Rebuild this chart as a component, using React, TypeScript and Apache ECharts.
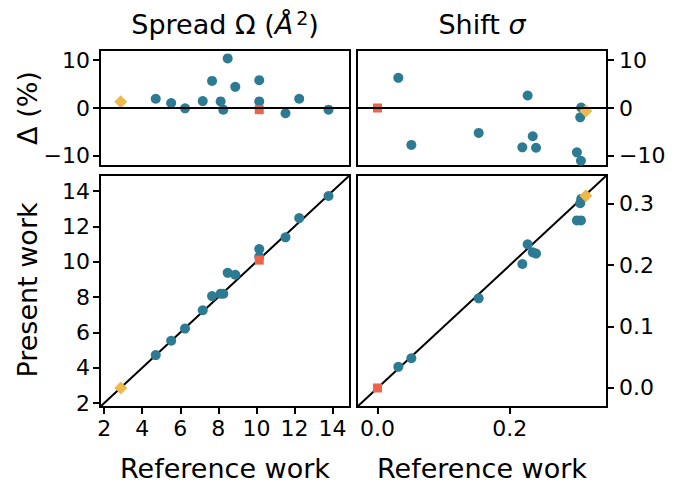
import React, { useEffect, useRef } from 'react';
import * as echarts from 'echarts';

// ---- Spread Ω (Å²) ----
const spreadRef = [4.71, 5.52, 6.25, 7.18, 7.67, 8.12, 8.26, 8.49, 8.89, 10.15, 10.15, 11.53, 12.25, 13.79];
const spreadPresent = [4.72, 5.53, 6.22, 7.26, 8.06, 8.2, 8.2, 9.38, 9.27, 10.73, 10.29, 11.39, 12.48, 13.73];
const spreadDelta = [1.93, 1.03, -0.07, 1.45, 5.65, 1.38, -0.35, 10.35, 4.41, 5.8, 1.38, -1.1, 1.93, -0.35];
const spreadDiamond = { ref: 2.87, present: 2.86, delta: 1.3 };
const spreadSquare = { ref: 10.15, present: 10.1, delta: -0.35 };

// ---- Shift σ ----
const shiftRef = [0.0315, 0.0512, 0.153, 0.219, 0.227, 0.2347, 0.2397, 0.3015, 0.3076, 0.3065, 0.308];
const shiftPresent = [0.0345, 0.0485, 0.146, 0.202, 0.234, 0.221, 0.219, 0.273, 0.273, 0.301, 0.308];
const shiftDelta = [6.3, -7.7, -5.2, -8.2, 2.6, -5.9, -8.3, -9.25, -11.0, -1.95, 0.1];
const shiftDiamond = { ref: 0.315, present: 0.313, delta: -0.6 };
const shiftSquare = { ref: 0.0, present: 0.0, delta: 0.0 };

// ---- Ticks ----
const deltaTicks = [-10, 0, 10];
const spreadTicks = [2, 4, 6, 8, 10, 12, 14];
const shiftXTicks = [0.0, 0.2];
const shiftYTicks = [0.0, 0.1, 0.2, 0.3];

const SPREAD_RANGE = [1.78, 14.92];
const SHIFT_RANGE = [-0.031, 0.347];
const DELTA_RANGE = [-12.1, 12.1];

const BLUE = '#2D7B93';
const RED = '#EE6349';
const YELLOW = '#EDB94A';
const FONT = 'DejaVu Sans';

const minus = (s: string) => s.replace('-', '\u2212');

export default function App() {
  const ref = useRef<HTMLDivElement>(null);
  useEffect(() => {
    const chart = echarts.init(ref.current!, null, { renderer: 'svg' });
    const tickStyle = { show: true, inside: false, length: 7, lineStyle: { color: '#000', width: 2 } };
    const gridBase = { show: true, borderColor: '#000', borderWidth: 2, backgroundColor: 'transparent' };

    const mkAxis = (gridIndex: number, range: number[], ticks: number[] | null, fmt: (v: number) => string, position?: string, margin = 10) => ({
      type: 'value',
      gridIndex,
      min: range[0],
      max: range[1],
      position,
      show: ticks !== null,
      splitLine: { show: false },
      axisLine: { show: false, onZero: false },
      axisTick: ticks ? { ...tickStyle, customValues: ticks } : { show: false },
      axisLabel: ticks
        ? { color: '#000', fontSize: 22, fontFamily: FONT, margin, customValues: ticks, formatter: (v: number) => fmt(v) }
        : { show: false },
    });

    const intFmt = (v: number) => minus(String(Math.round(v)));
    const oneFmt = (v: number) => minus(v.toFixed(1));

    const zeroLine = {
      silent: true,
      symbol: 'none',
      label: { show: false },
      lineStyle: { color: '#000', width: 2, type: 'solid' },
      data: [{ yAxis: 0 }],
    };

    const blue = (xi: number, data: number[][], withZero = false) => ({
      type: 'scatter',
      xAxisIndex: xi,
      yAxisIndex: xi,
      symbol: 'circle',
      symbolSize: 10,
      itemStyle: { color: BLUE, opacity: 1 },
      data,
      z: 3,
      ...(withZero ? { markLine: zeroLine } : {}),
    });
    const special = (xi: number, pt: number[], kind: 'diamond' | 'rect') => ({
      type: 'scatter',
      xAxisIndex: xi,
      yAxisIndex: xi,
      symbol: kind,
      symbolSize: kind === 'diamond' ? 13 : 9,
      itemStyle: { color: kind === 'diamond' ? YELLOW : RED, opacity: 1 },
      data: [pt],
      z: 4,
    });
    const diag = (xi: number, range: number[]) => ({
      type: 'line',
      xAxisIndex: xi,
      yAxisIndex: xi,
      showSymbol: false,
      symbol: 'none',
      lineStyle: { color: '#000', width: 2 },
      data: [[range[0], range[0]], [range[1], range[1]]],
      z: 2,
      silent: true,
    });

    const labelFont = `27px "${FONT}"`;

    const option = {
      animation: false,
      backgroundColor: '#fff',
      grid: [
        { ...gridBase, left: 100, top: 50, width: 250, height: 116 },
        { ...gridBase, left: 357, top: 50, width: 250, height: 116 },
        { ...gridBase, left: 100, top: 175, width: 250, height: 232 },
        { ...gridBase, left: 357, top: 175, width: 250, height: 232 },
      ],
      xAxis: [
        mkAxis(0, SPREAD_RANGE, null, intFmt),
        mkAxis(1, SHIFT_RANGE, null, oneFmt),
        mkAxis(2, SPREAD_RANGE, spreadTicks, intFmt, 'bottom', 10),
        mkAxis(3, SHIFT_RANGE, shiftXTicks, oneFmt, 'bottom', 10),
      ],
      yAxis: [
        mkAxis(0, DELTA_RANGE, deltaTicks, intFmt, 'left', 10),
        mkAxis(1, DELTA_RANGE, deltaTicks, intFmt, 'right', 12),
        mkAxis(2, SPREAD_RANGE, spreadTicks, intFmt, 'left', 10),
        mkAxis(3, SHIFT_RANGE, shiftYTicks, oneFmt, 'right', 12),
      ],
      series: [
        blue(0, spreadRef.map((r, i) => [r, spreadDelta[i]]), true),
        special(0, [spreadDiamond.ref, spreadDiamond.delta], 'diamond'),
        special(0, [spreadSquare.ref, spreadSquare.delta], 'rect'),
        blue(1, shiftRef.map((r, i) => [r, shiftDelta[i]]), true),
        special(1, [shiftDiamond.ref, shiftDiamond.delta], 'diamond'),
        special(1, [shiftSquare.ref, shiftSquare.delta], 'rect'),
        diag(2, SPREAD_RANGE),
        blue(2, spreadRef.map((r, i) => [r, spreadPresent[i]])),
        special(2, [spreadDiamond.ref, spreadDiamond.present], 'diamond'),
        special(2, [spreadSquare.ref, spreadSquare.present], 'rect'),
        diag(3, SHIFT_RANGE),
        blue(3, shiftRef.map((r, i) => [r, shiftPresent[i]])),
        special(3, [shiftDiamond.ref, shiftDiamond.present], 'diamond'),
        special(3, [shiftSquare.ref, shiftSquare.present], 'rect'),
      ],
      graphic: [
        {
          type: 'text', x: 225, y: 24,
          style: {
            text: '{a|Spread \u03A9 (}{i|\u00C5}{s|2}{a|)}',
            align: 'center', verticalAlign: 'middle',
            rich: {
              a: { fontSize: 27, fontFamily: FONT, color: '#000' },
              i: { fontSize: 27, fontFamily: FONT, fontStyle: 'italic', color: '#000' },
              s: { fontSize: 19, fontFamily: FONT, color: '#000', padding: [0, 0, 12, 3] },
            },
          },
        },
        {
          type: 'text', x: 482, y: 24,
          style: {
            text: '{a|Shift }{i|\u03C3}',
            align: 'center', verticalAlign: 'middle',
            rich: {
              a: { fontSize: 27, fontFamily: FONT, color: '#000' },
              i: { fontSize: 27, fontFamily: FONT, fontStyle: 'italic', color: '#000' },
            },
          },
        },
        {
          type: 'text', x: 225, y: 468,
          style: { text: 'Reference work', font: labelFont, fill: '#000', align: 'center', verticalAlign: 'middle' },
        },
        {
          type: 'text', x: 482, y: 468,
          style: { text: 'Reference work', font: labelFont, fill: '#000', align: 'center', verticalAlign: 'middle' },
        },
        {
          type: 'text', x: 27, y: 290, rotation: Math.PI / 2,
          style: { text: 'Present work', font: labelFont, fill: '#000', align: 'center', verticalAlign: 'middle' },
        },
        {
          type: 'text', x: 27, y: 108, rotation: Math.PI / 2,
          style: { text: '\u0394 (%)', font: labelFont, fill: '#000', align: 'center', verticalAlign: 'middle' },
        },
      ],
    };
    chart.setOption(option as any);
    return () => chart.dispose();
  }, []);
  return <div ref={ref} style={{ position: 'absolute', left: 0, top: 0, width: 682, height: 482 }} />;
}
